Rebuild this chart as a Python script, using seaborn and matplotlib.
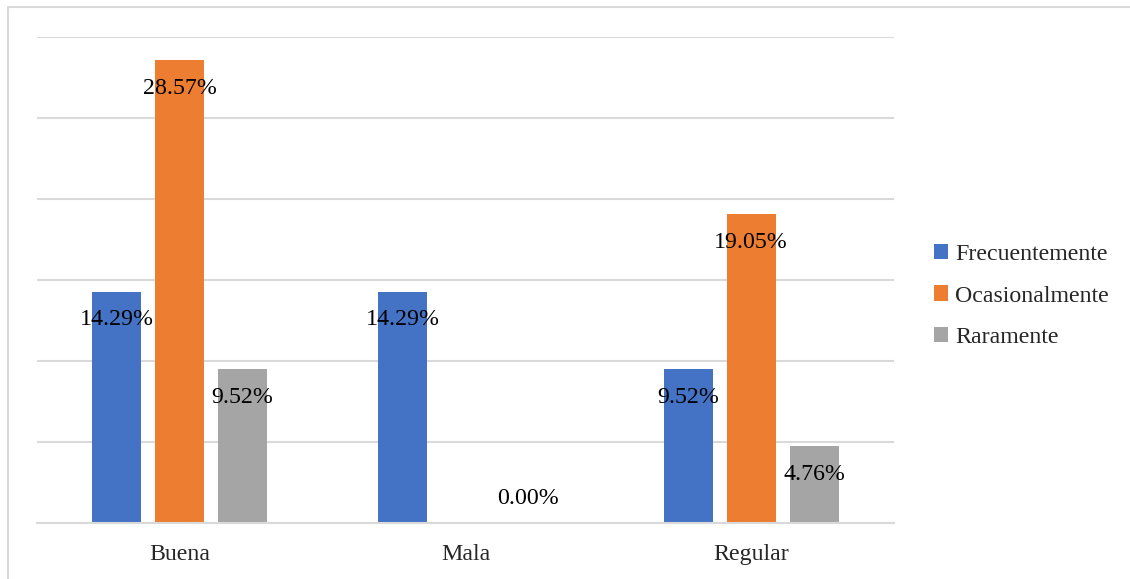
import numpy as np
import pandas as pd
import matplotlib
matplotlib.use("Agg")
import matplotlib.pyplot as plt
import seaborn as sns
from matplotlib.patches import Rectangle

# data (None = no value shown)
categories = ["Buena", "Mala", "Regular"]
series = ["Frecuentemente", "Ocasionalmente", "Raramente"]
frecuentemente = [14.29, 14.29, 9.52]
ocasionalmente = [28.57, None, 19.05]
raramente = [9.52, 0.00, 4.76]
colors = ["#4472C4", "#ED7D31", "#A5A5A5"]

rows = []
for name, vals in zip(series, [frecuentemente, ocasionalmente, raramente]):
    for cat, v in zip(categories, vals):
        rows.append({"cat": cat, "serie": name, "valor": np.nan if v is None else v})
df = pd.DataFrame(rows)

sns.set_theme(style="white")
plt.rcParams["font.family"] = ["Liberation Serif", "DejaVu Serif"]
fs = 17.2

fig = plt.figure(figsize=(11.3, 5.79), dpi=100)
ax = fig.add_axes([37 / 1130, 56 / 579, (894 - 37) / 1130, (523 - 37) / 579])

sns.barplot(data=df, x="cat", y="valor", hue="serie", order=categories,
            hue_order=series, palette=colors, width=0.66, gap=0.22,
            saturation=1, errorbar=None, linewidth=0, ax=ax)

# labels inside the end of each bar (Excel style)
for name, vals in zip(series, [frecuentemente, ocasionalmente, raramente]):
    j = series.index(name)
    for i, v in enumerate(vals):
        if v is None:
            continue
        xc = i + (j - 1) * 0.22
        dy = -20.5 if v > 0 else 18
        ax.annotate(f"{v:.2f}%", (xc, v), xytext=(0, dy),
                    textcoords="offset points", ha="center", va="center",
                    fontsize=fs, color="black")

ax.set_ylim(0, 30)
ax.set_yticks(range(0, 31, 5))
ax.set_yticklabels([])
ax.yaxis.grid(True, color="#d9d9d9", linewidth=1.5)
ax.set_axisbelow(True)
for s in ["left", "right", "top"]:
    ax.spines[s].set_visible(False)
ax.spines["bottom"].set_color("#d9d9d9")
ax.spines["bottom"].set_linewidth(1.5)
ax.tick_params(axis="x", length=0, pad=15, labelsize=fs)
ax.tick_params(axis="y", length=0)
ax.set_xlabel("")
ax.set_ylabel("")

handles, labels = ax.get_legend_handles_labels()
ax.legend(handles, labels, loc="center left", bbox_to_anchor=(912 / 1130, 1 - 296 / 579),
          bbox_transform=fig.transFigure, frameon=False, fontsize=fs,
          handlelength=0.6, handleheight=0.6, handletextpad=0.3, labelspacing=0.86)

# outer chart frame
fig.patches.append(Rectangle((8 / 1130, -0.05), 1.1, 1 - 7 / 579 + 0.05,
                             transform=fig.transFigure, fill=False,
                             edgecolor="#d9d9d9", linewidth=1.5))

fig.savefig("out.png", dpi=100)
